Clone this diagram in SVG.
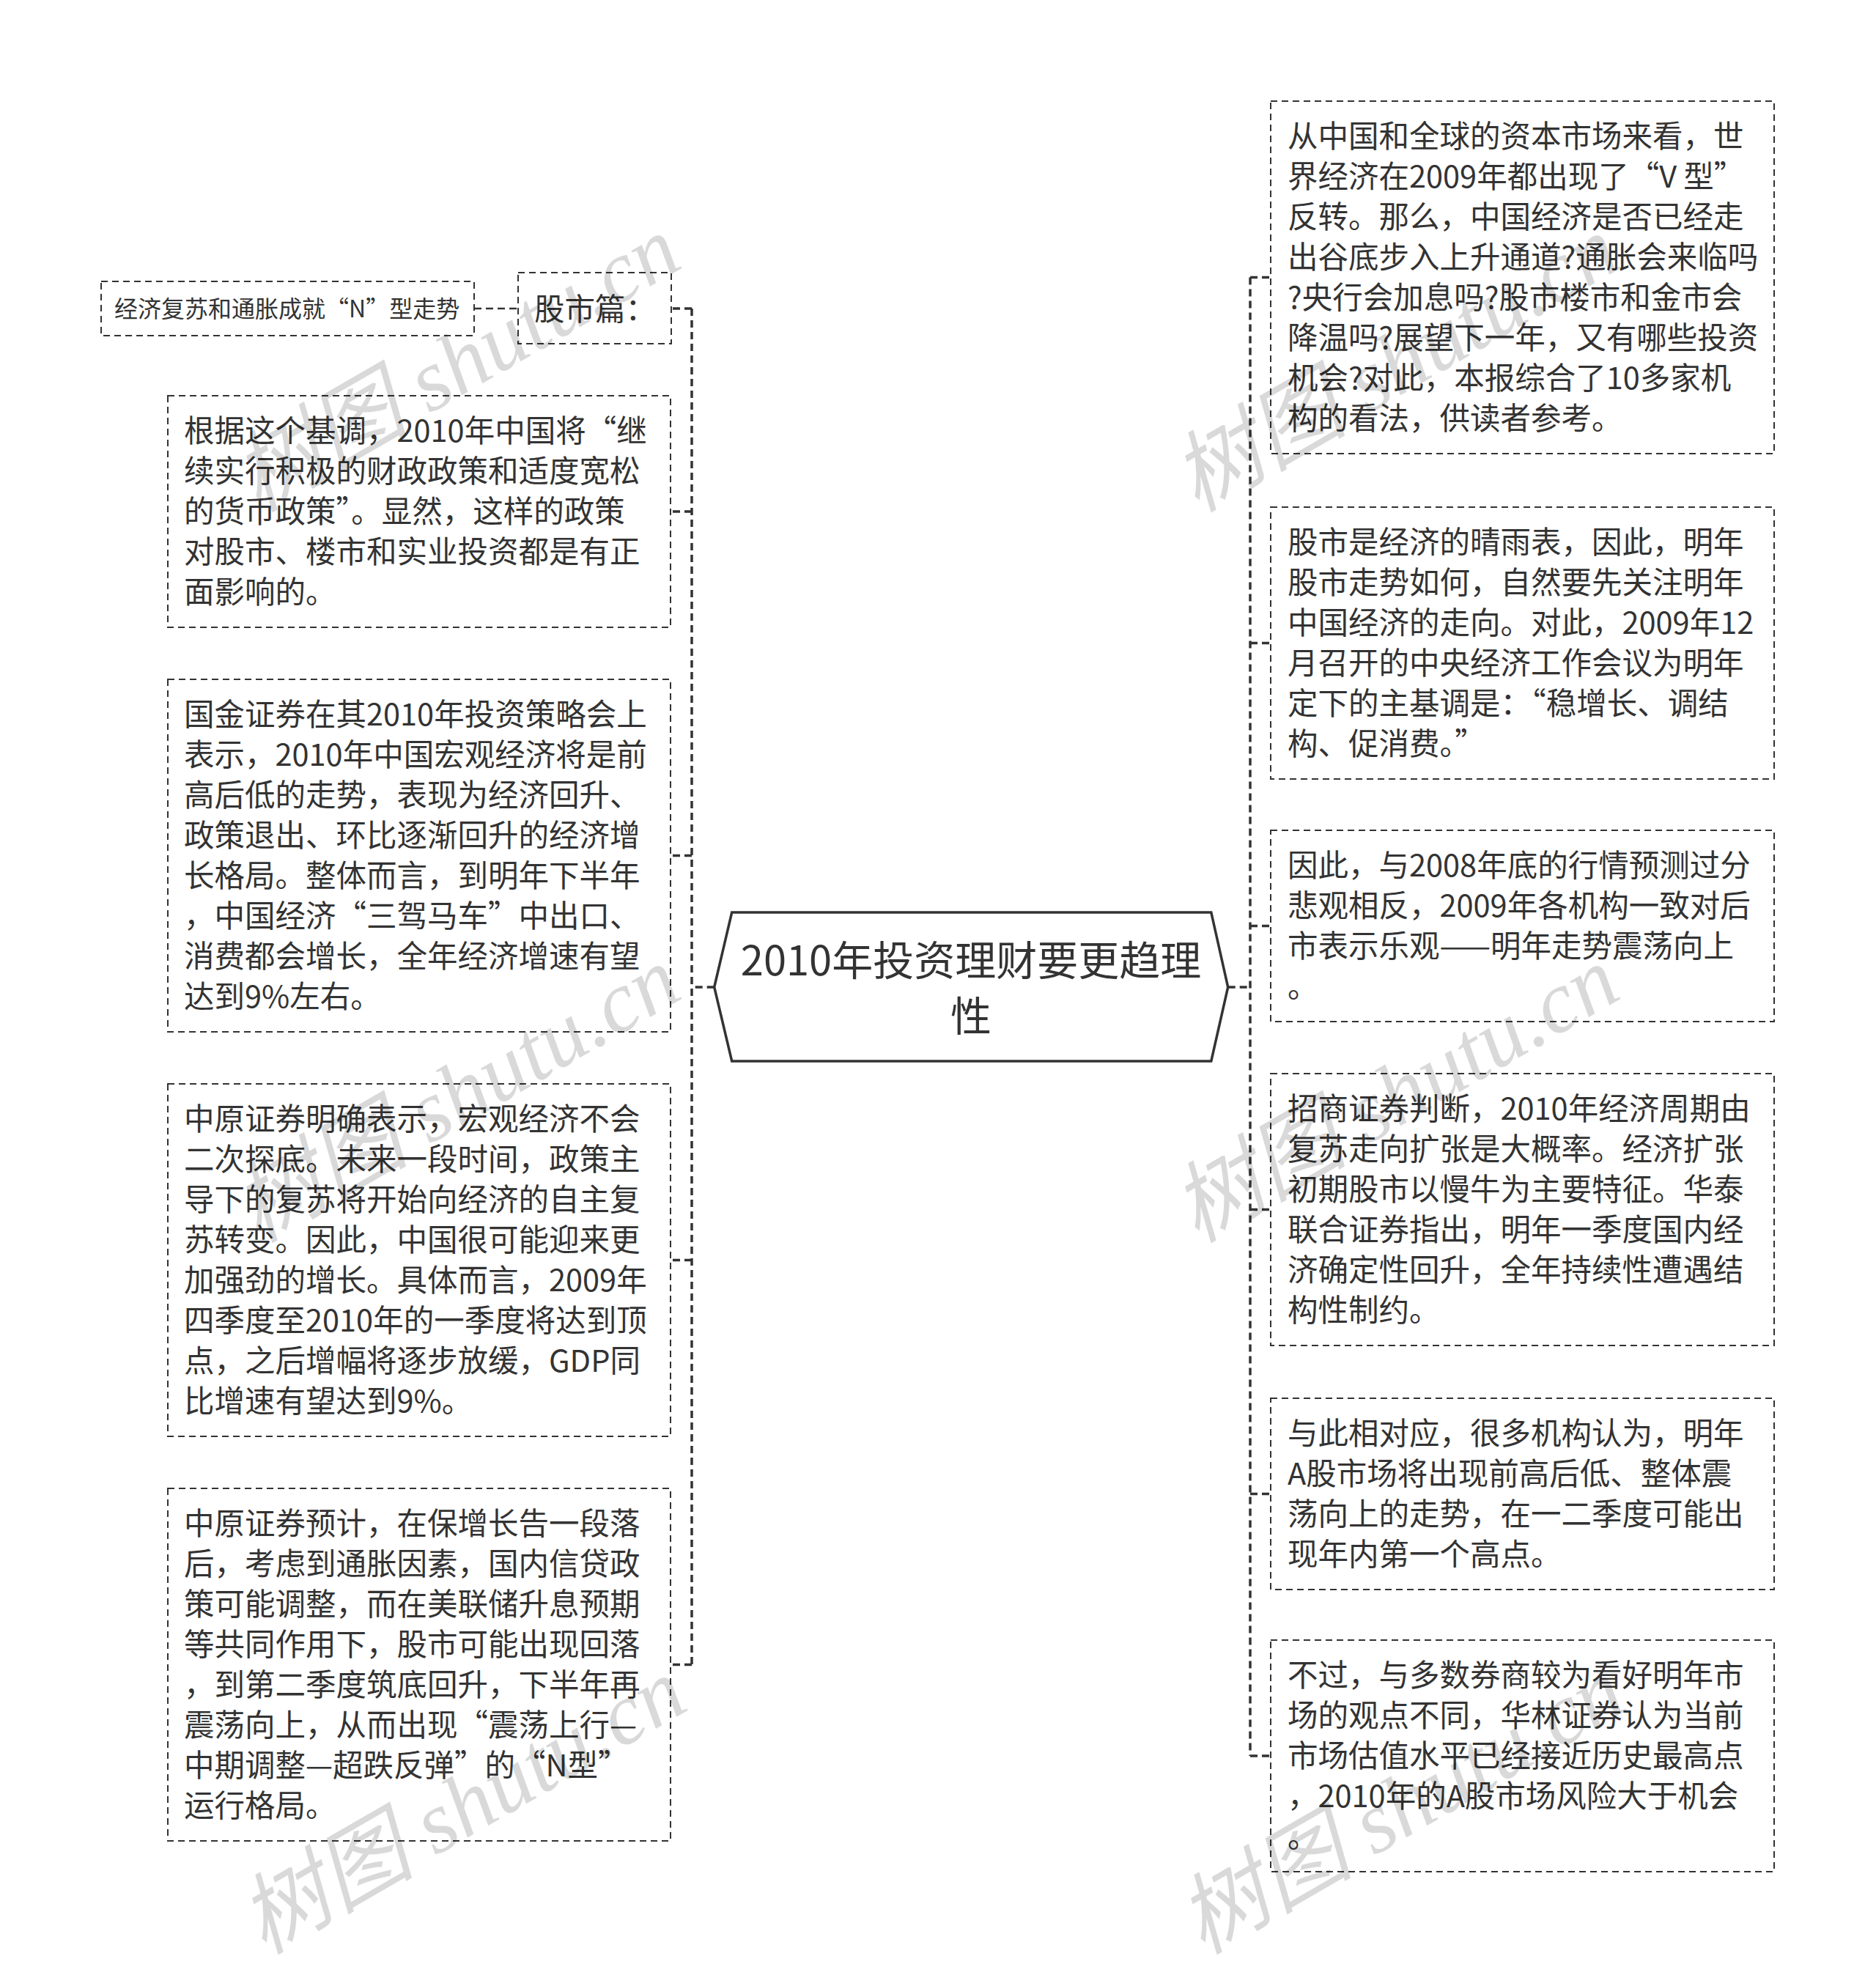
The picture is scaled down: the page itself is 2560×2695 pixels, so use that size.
<svg xmlns="http://www.w3.org/2000/svg" width="2560" height="2695" viewBox="0 0 2560 2695">
<style>
.box{fill:#fff;stroke:#333;stroke-width:2;stroke-dasharray:9 6}
.t{font-family:"Noto Sans CJK SC","Noto Sans",sans-serif;font-size:41.5px;fill:#333}
.conn{fill:none;stroke:#333;stroke-width:3.5;stroke-dasharray:10 6}
.wm{font-family:"Liberation Serif","Noto Sans CJK SC",serif;font-style:italic;font-size:120px;fill:#000;fill-opacity:0.15}
</style>
<rect width="2560" height="2695" fill="#fff"/>
<g id="connectors">
<path class="conn" d="M944 421V2271.5M944 421H916M944 698H915M944 1167.5H915M944 1719.5H915M944 2271.5H915M974.7 1347H944"/>
<path class="conn" d="M1706 378.5V2396M1706 378.5H1734M1706 877.5H1734M1706 1263.5H1734M1706 1650.5H1734M1706 2038.5H1734M1706 2396H1734M1675.7 1347H1706"/>
<path class="conn" style="stroke-width:2.5" d="M647 421H707"/>
</g>
<g id="center">
<polygon points="974.7,1347 998.7,1245 1652.8,1245 1675.7,1347 1652.8,1448 998.7,1448" fill="#fff" stroke="#333" stroke-width="3.5"/>
<text class="t" style="font-size:56px" text-anchor="middle"><tspan x="1325" y="1331">2010年投资理财要更趋理</tspan><tspan x="1325" y="1407">性</tspan></text>
</g>
<g id="node-jjfs">
<rect class="box" x="138" y="384" width="509" height="74"/>
<text class="t" style="font-size:32px" x="156" y="433">经济复苏和通胀成就“N”型走势</text>
</g>
<g id="node-gsp">
<rect class="box" x="707" y="372" width="209" height="97"/>
<text class="t" x="729" y="437">股市篇：</text>
</g>
<g id="node-l1">
<rect class="box" x="229" y="540" width="686" height="316"/>
<text class="t"><tspan x="251" y="603">根据这个基调，2010年中国将“继</tspan><tspan x="251" dy="55">续实行积极的财政政策和适度宽松</tspan><tspan x="251" dy="55">的货币政策”。显然，这样的政策</tspan><tspan x="251" dy="55">对股市、楼市和实业投资都是有正</tspan><tspan x="251" dy="55">面影响的。</tspan></text>
</g>
<g id="node-l2">
<rect class="box" x="229" y="927" width="686" height="481"/>
<text class="t"><tspan x="251" y="990">国金证券在其2010年投资策略会上</tspan><tspan x="251" dy="55">表示，2010年中国宏观经济将是前</tspan><tspan x="251" dy="55">高后低的走势，表现为经济回升、</tspan><tspan x="251" dy="55">政策退出、环比逐渐回升的经济增</tspan><tspan x="251" dy="55">长格局。整体而言，到明年下半年</tspan><tspan x="251" dy="55">，中国经济“三驾马车”中出口、</tspan><tspan x="251" dy="55">消费都会增长，全年经济增速有望</tspan><tspan x="251" dy="55">达到9%左右。</tspan></text>
</g>
<g id="node-l3">
<rect class="box" x="229" y="1479" width="686" height="481"/>
<text class="t"><tspan x="251" y="1542">中原证券明确表示，宏观经济不会</tspan><tspan x="251" dy="55">二次探底。未来一段时间，政策主</tspan><tspan x="251" dy="55">导下的复苏将开始向经济的自主复</tspan><tspan x="251" dy="55">苏转变。因此，中国很可能迎来更</tspan><tspan x="251" dy="55">加强劲的增长。具体而言，2009年</tspan><tspan x="251" dy="55">四季度至2010年的一季度将达到顶</tspan><tspan x="251" dy="55">点，之后增幅将逐步放缓，GDP同</tspan><tspan x="251" dy="55">比增速有望达到9%。</tspan></text>
</g>
<g id="node-l4">
<rect class="box" x="229" y="2031" width="686" height="481"/>
<text class="t"><tspan x="251" y="2094">中原证券预计，在保增长告一段落</tspan><tspan x="251" dy="55">后，考虑到通胀因素，国内信贷政</tspan><tspan x="251" dy="55">策可能调整，而在美联储升息预期</tspan><tspan x="251" dy="55">等共同作用下，股市可能出现回落</tspan><tspan x="251" dy="55">，到第二季度筑底回升，下半年再</tspan><tspan x="251" dy="55">震荡向上，从而出现“震荡上行—</tspan><tspan x="251" dy="55">中期调整—超跌反弹”的“N型”</tspan><tspan x="251" dy="55">运行格局。</tspan></text>
</g>
<g id="node-r1">
<rect class="box" x="1734" y="138" width="687" height="481"/>
<text class="t"><tspan x="1757" y="201">从中国和全球的资本市场来看，世</tspan><tspan x="1757" dy="55">界经济在2009年都出现了“V 型”</tspan><tspan x="1757" dy="55">反转。那么，中国经济是否已经走</tspan><tspan x="1757" dy="55">出谷底步入上升通道?通胀会来临吗</tspan><tspan x="1757" dy="55">?央行会加息吗?股市楼市和金市会</tspan><tspan x="1757" dy="55">降温吗?展望下一年，又有哪些投资</tspan><tspan x="1757" dy="55">机会?对此，本报综合了10多家机</tspan><tspan x="1757" dy="55">构的看法，供读者参考。</tspan></text>
</g>
<g id="node-r2">
<rect class="box" x="1734" y="692" width="687" height="371"/>
<text class="t"><tspan x="1757" y="755">股市是经济的晴雨表，因此，明年</tspan><tspan x="1757" dy="55">股市走势如何，自然要先关注明年</tspan><tspan x="1757" dy="55">中国经济的走向。对此，2009年12</tspan><tspan x="1757" dy="55">月召开的中央经济工作会议为明年</tspan><tspan x="1757" dy="55">定下的主基调是：“稳增长、调结</tspan><tspan x="1757" dy="55">构、促消费。”</tspan></text>
</g>
<g id="node-r3">
<rect class="box" x="1734" y="1133" width="687" height="261"/>
<text class="t"><tspan x="1757" y="1196">因此，与2008年底的行情预测过分</tspan><tspan x="1757" dy="55">悲观相反，2009年各机构一致对后</tspan><tspan x="1757" dy="55">市表示乐观——明年走势震荡向上</tspan><tspan x="1757" dy="55">。</tspan></text>
</g>
<g id="node-r4">
<rect class="box" x="1734" y="1465" width="687" height="371"/>
<text class="t"><tspan x="1757" y="1528">招商证券判断，2010年经济周期由</tspan><tspan x="1757" dy="55">复苏走向扩张是大概率。经济扩张</tspan><tspan x="1757" dy="55">初期股市以慢牛为主要特征。华泰</tspan><tspan x="1757" dy="55">联合证券指出，明年一季度国内经</tspan><tspan x="1757" dy="55">济确定性回升，全年持续性遭遇结</tspan><tspan x="1757" dy="55">构性制约。</tspan></text>
</g>
<g id="node-r5">
<rect class="box" x="1734" y="1908" width="687" height="261"/>
<text class="t"><tspan x="1757" y="1971">与此相对应，很多机构认为，明年</tspan><tspan x="1757" dy="55">A股市场将出现前高后低、整体震</tspan><tspan x="1757" dy="55">荡向上的走势，在一二季度可能出</tspan><tspan x="1757" dy="55">现年内第一个高点。</tspan></text>
</g>
<g id="node-r6">
<rect class="box" x="1734" y="2238" width="687" height="316"/>
<text class="t"><tspan x="1757" y="2301">不过，与多数券商较为看好明年市</tspan><tspan x="1757" dy="55">场的观点不同，华林证券认为当前</tspan><tspan x="1757" dy="55">市场估值水平已经接近历史最高点</tspan><tspan x="1757" dy="55">，2010年的A股市场风险大于机会</tspan><tspan x="1757" dy="55">。</tspan></text>
</g>
<g id="watermarks">
<text class="wm" transform="translate(352,700) rotate(-30)">树图 shutu.cn</text>
<text class="wm" transform="translate(1633,700) rotate(-30)">树图 shutu.cn</text>
<text class="wm" transform="translate(352,1697) rotate(-30)">树图 shutu.cn</text>
<text class="wm" transform="translate(1633,1697) rotate(-30)">树图 shutu.cn</text>
<text class="wm" transform="translate(360,2668) rotate(-30)">树图 shutu.cn</text>
<text class="wm" transform="translate(1641,2668) rotate(-30)">树图 shutu.cn</text>
</g>
</svg>
